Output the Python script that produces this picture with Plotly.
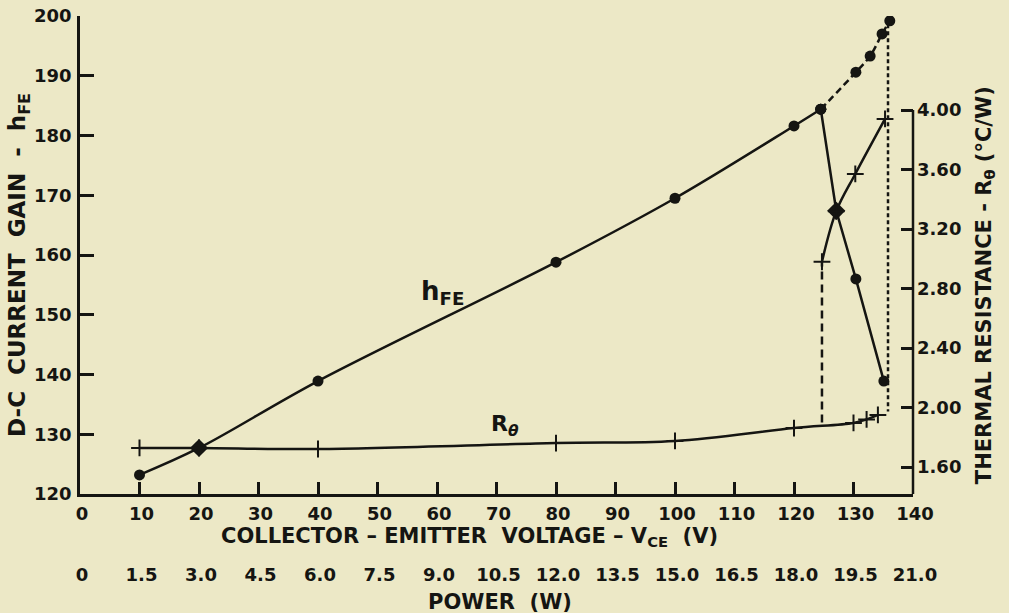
import plotly.graph_objects as go

# ---- data ----
# h_FE rising branch (solid)
hfe_v = [10, 20, 40, 80, 100, 120, 124.5]
hfe = [123.2, 127.7, 138.9, 158.8, 169.5, 181.6, 184.4]
# h_FE upper dashed branch
hfe_up_v = [124.5, 130.4, 132.8, 134.8, 136.1]
hfe_up = [184.4, 190.6, 193.3, 197.0, 199.2]
# h_FE falling branch (solid)
hfe_dn_v = [124.5, 127.1, 130.4, 135.1]
hfe_dn = [184.4, 167.4, 156.0, 138.9]

# R_theta lower branch
r_v = [10, 20, 40, 80, 100, 120, 130, 132.2, 134.1]
r = [1.728, 1.728, 1.721, 1.761, 1.775, 1.862, 1.896, 1.92, 1.95]
# R_theta upper branch
r_up_v = [124.7, 127.1, 130.3, 135.3]
r_up = [2.98, 3.32, 3.57, 3.94]
# dashed vertical link at 124.7 V
r_link_v = [124.7, 124.7]
r_link = [1.90, 2.98]
# dotted vertical line at ~135.8 V (in h_FE units)
dot_v = [135.8, 135.8]
dot_h = [198.6, 133.8]

# diamond points (intersections)
dia_v = [20, 127.1]
dia_h = [127.7, 167.4]

x_ticks = list(range(0, 141, 10))
h_ticks = list(range(120, 201, 10))
r_ticks = [1.60, 2.00, 2.40, 2.80, 3.20, 3.60, 4.00]
r_ticktext = ["1.60", "2.00", "2.40", "2.80", "3.20", "3.60", "4.00"]
p_ticks = [0, 1.5, 3.0, 4.5, 6.0, 7.5, 9.0, 10.5, 12.0, 13.5, 15.0, 16.5, 18.0, 19.5, 21.0]
p_ticktext = ["0", "1.5", "3.0", "4.5", "6.0", "7.5", "9.0", "10.5", "12.0", "13.5", "15.0", "16.5", "18.0", "19.5", "21.0"]

H_RANGE = [120, 200]
R_RANGE = [1.4185, 4.632]
X_RANGE = [0, 140]
P_RANGE = [0, 21]

INK = "#151512"
BG = "#ECE8C6"
FONT = "DejaVu Sans"

fig = go.Figure()

fig.add_trace(go.Scatter(x=hfe_v, y=hfe, mode="lines+markers", line=dict(color=INK, width=2.5, shape="spline"),
                         marker=dict(symbol="circle", size=11, color=INK), showlegend=False))
fig.add_trace(go.Scatter(x=hfe_up_v, y=hfe_up, mode="lines+markers", line=dict(color=INK, width=2.5, dash="7px,4px", shape="spline"),
                         marker=dict(symbol="circle", size=11, color=INK), showlegend=False))
fig.add_trace(go.Scatter(x=hfe_dn_v, y=hfe_dn, mode="lines+markers", line=dict(color=INK, width=2.5),
                         marker=dict(symbol="circle", size=11, color=INK), showlegend=False))
fig.add_trace(go.Scatter(x=dot_v, y=dot_h, mode="lines", line=dict(color=INK, width=2.5, dash="4px,3px"),
                         showlegend=False))

fig.add_trace(go.Scatter(x=r_v, y=r, yaxis="y2", mode="lines+markers", line=dict(color=INK, width=2.5, shape="spline"),
                         marker=dict(symbol="cross-thin", size=12, line=dict(color=INK, width=2)), showlegend=False))
fig.add_trace(go.Scatter(x=r_up_v, y=r_up, yaxis="y2", mode="lines+markers", line=dict(color=INK, width=2.5, shape="spline"),
                         marker=dict(symbol="cross-thin", size=12, line=dict(color=INK, width=2)), showlegend=False))
fig.add_trace(go.Scatter(x=r_link_v, y=r_link, yaxis="y2", mode="lines", line=dict(color=INK, width=2.5, dash="8px,5px"),
                         showlegend=False))

fig.add_trace(go.Scatter(x=dia_v, y=dia_h, mode="markers",
                         marker=dict(symbol="diamond", size=14, color=INK), showlegend=False))

# invisible trace to register the power axis
fig.add_trace(go.Scatter(x=[p_ticks[0]], y=[H_RANGE[0]], xaxis="x2", mode="markers",
                         marker=dict(opacity=0), hoverinfo="skip", showlegend=False))

tickfont = dict(family=FONT, size=18, color=INK, weight="bold")

fig.update_layout(
    width=1009, height=613,
    margin=dict(l=80, r=96, t=16, b=119, autoexpand=False),
    paper_bgcolor=BG, plot_bgcolor=BG,
    xaxis=dict(range=X_RANGE, tickvals=x_ticks, ticks="inside", ticklen=12, tickwidth=2.5, tickcolor=INK,
               showline=True, linecolor=INK, linewidth=2.5, showgrid=False, zeroline=False, automargin=False,
               tickfont=tickfont, ticklabelstandoff=2, ticklabelshift=2),
    xaxis2=dict(range=P_RANGE, overlaying="x", anchor="y", side="bottom", tickvals=p_ticks, ticktext=p_ticktext,
                ticks="", showline=False, showgrid=False, zeroline=False, automargin=False,
                tickfont=tickfont, ticklabelstandoff=68, ticklabelshift=2),
    yaxis=dict(range=H_RANGE, tickvals=h_ticks, ticks="inside", ticklen=14, tickwidth=2.5, tickcolor=INK,
               showline=True, linecolor=INK, linewidth=2.5, showgrid=False, zeroline=False, automargin=False,
               tickfont=tickfont, ticklabelstandoff=2),
    yaxis2=dict(range=R_RANGE, overlaying="y", side="right", tickvals=r_ticks, ticktext=r_ticktext,
                ticks="inside", ticklen=12, tickwidth=2.5, tickcolor=INK, showline=False, showgrid=False,
                zeroline=False, automargin=False, tickfont=tickfont, ticklabelstandoff=3),
    showlegend=False,
)

# right axis spine only from the bottom up to 4.00
fig.add_shape(type="line", xref="paper", yref="y2", x0=1, x1=1, y0=R_RANGE[0], y1=r_ticks[-1],
              line=dict(color=INK, width=2.5))

tfont = dict(family=FONT, size=21, color=INK)
common = dict(xref="paper", yref="paper", showarrow=False, xanchor="center", yanchor="middle")
fig.add_annotation(text="<b>D-C  CURRENT  GAIN  -  h<sub>FE</sub></b>", x=-0.074, y=0.48, textangle=-90,
                   font=dict(family=FONT, size=23, color=INK), **common)
fig.add_annotation(text="<b>THERMAL RESISTANCE - R<sub>θ</sub> (°C/W)</b>", x=1.0865, y=0.437, textangle=-90,
                   font=tfont, **common)
fig.add_annotation(text="<b>COLLECTOR – EMITTER  VOLTAGE – V<sub>CE</sub>  (V)</b>", x=0.468, y=-0.09,
                   font=tfont, **common)
fig.add_annotation(text="<b>POWER  (W)</b>", x=0.504, y=-0.225, font=tfont, **common)

fig.add_annotation(text="<b>h<sub>FE</sub></b>", x=61, y=153.8, showarrow=False,
                   font=dict(family=FONT, size=26, color=INK))
fig.add_annotation(text="<b>R<sub><i>θ</i></sub></b>", x=71.5, y=131.5, showarrow=False,
                   font=dict(family=FONT, size=22, color=INK))

fig.write_html("out.html", config={"displayModeBar": False},
               post_script="document.body.style.margin='0';")
